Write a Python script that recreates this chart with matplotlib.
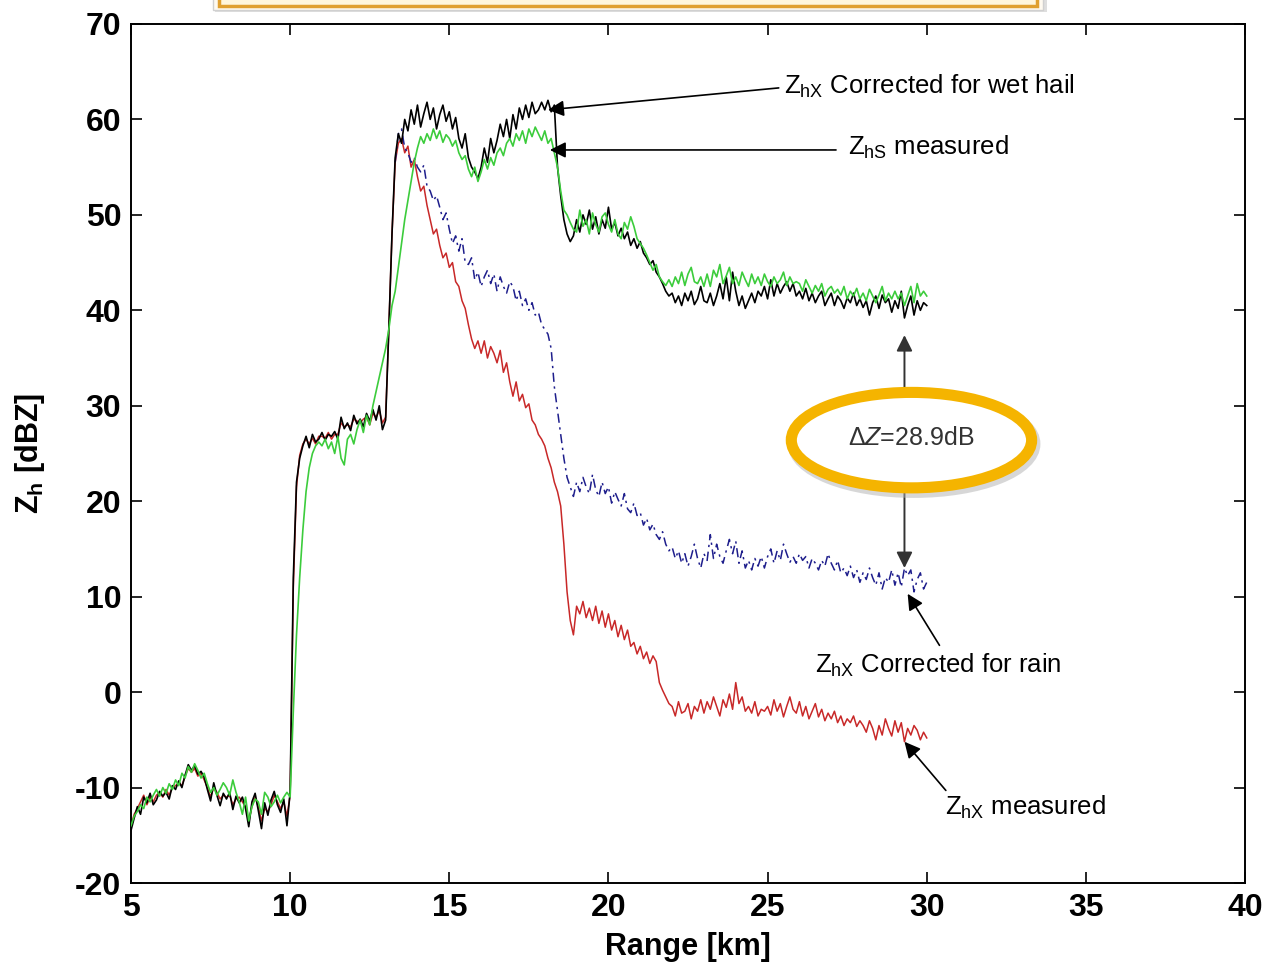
import numpy as np
import matplotlib
matplotlib.use("Agg")
import matplotlib.pyplot as plt
from matplotlib.patches import Ellipse, Rectangle

plt.rcParams['font.family'] = ['Liberation Sans', 'DejaVu Sans']
plt.rcParams['mathtext.fontset'] = 'custom'
plt.rcParams['mathtext.rm'] = 'Liberation Sans'
plt.rcParams['mathtext.it'] = 'Liberation Sans:italic'
plt.rcParams['mathtext.bf'] = 'Liberation Sans:bold'
plt.rcParams['axes.unicode_minus'] = False

# range axis, 0.1 km steps
rng = np.round(np.arange(5.0, 30.05, 0.1), 1)
rng_rain = np.round(np.arange(13.3, 30.05, 0.1), 1)

# Zhx corrected for wet hail (black)
zhx_hail = [
    -14.5, -13.2, -12.0, -12.8, -11.0, -11.6, -10.6, -11.8, -11.3, -10.4,
    -10.9, -10.5, -11.2, -9.8, -10.2, -9.3, -10.0, -8.7, -7.6, -8.2,
    -7.7, -8.6, -8.3, -8.9, -10.2, -11.4, -9.5, -10.8, -11.9, -10.6,
    -11.2, -10.5, -12.3, -10.9, -11.6, -11.0, -12.2, -14.1, -11.5, -10.6,
    -12.4, -14.3, -11.6, -12.9, -11.3, -10.4, -11.8, -12.6, -11.2, -14.0,
    -10.5, 12.0, 22.0, 24.5, 25.8, 26.8, 25.6, 27.0, 26.2, 26.5,
    27.2, 26.4, 27.0, 26.8, 27.3, 26.5, 28.8, 27.6, 28.2, 27.4,
    29.0, 28.1, 28.6, 27.8, 29.2, 28.4, 29.6, 28.5, 30.0, 27.5,
    28.5, 38.0, 48.0, 56.0, 58.5, 57.5, 60.0, 58.8, 61.0, 59.5,
    61.5, 59.2, 60.6, 61.8, 60.0, 61.2, 59.0, 60.5, 61.5, 59.8,
    60.8, 59.0, 60.2, 58.0, 57.0, 58.5, 56.0, 55.0, 54.5, 53.8,
    55.0, 57.0, 55.5, 58.0, 56.5, 57.8, 59.5, 58.2, 60.0, 58.0,
    60.5, 59.0, 61.2, 60.0, 61.5, 60.2, 61.8, 60.6, 61.0, 61.8,
    61.0, 62.0, 60.8, 61.5, 55.0, 52.0, 49.5, 48.0, 47.2, 47.8,
    49.5, 48.2, 50.0, 49.0, 50.5, 48.5, 49.8, 48.0, 49.5, 48.6,
    50.8, 48.5, 49.2, 47.8, 48.6, 47.5, 48.2, 46.8, 47.5, 46.5,
    47.2, 46.0, 45.5, 44.8, 45.2, 44.0, 43.5, 42.8, 42.0, 41.5,
    41.8, 40.8, 41.5, 40.5, 41.8, 41.0, 42.0, 40.6, 41.2, 42.5,
    41.0, 40.8, 41.8, 40.5, 41.5, 42.8, 41.2, 43.5, 41.0, 44.0,
    42.0, 40.5, 41.5, 40.2, 41.0, 41.8, 40.8, 42.0, 41.5, 42.5,
    41.2, 43.2, 41.5, 42.8, 41.8, 42.5, 43.0, 42.0, 42.8, 41.5,
    42.0, 41.2, 42.3, 41.0, 41.8, 40.8, 41.5, 42.0, 40.5, 41.2,
    41.8, 40.5, 41.5, 41.0, 40.2, 41.3, 40.8, 41.8, 40.5, 41.2,
    40.3, 41.0, 39.5, 40.8, 41.5, 40.2, 41.6, 40.8, 41.2, 39.8,
    41.0, 40.2, 42.0, 39.2, 40.5, 41.5, 39.5, 41.0, 40.0, 40.8, 40.5,
]

# Zhs measured (green)
zhs_meas = [
    -14.0, -13.0, -12.5, -11.8, -12.2, -11.0, -11.5, -10.8, -10.2, -10.9,
    -10.0, -10.6, -9.6, -10.2, -9.2, -9.8, -8.5, -9.0, -7.8, -8.4,
    -7.5, -8.2, -9.0, -8.5, -9.6, -10.5, -10.0, -10.8, -10.2, -9.5,
    -10.0, -10.8, -9.2, -10.5, -11.5, -12.8, -11.0, -13.5, -12.0, -11.2,
    -11.5, -12.8, -10.5, -11.0, -12.0, -11.5, -10.8, -11.6, -11.0, -10.5,
    -11.0, -2.0, 6.0, 12.0, 17.0, 21.0, 23.5, 25.0, 25.8, 26.2,
    25.8, 26.5, 25.5, 26.2, 25.0, 26.8, 24.5, 23.8, 26.5, 27.0,
    26.0, 27.5, 28.5, 27.2, 29.0, 28.0, 30.0, 31.5, 33.0, 34.5,
    36.0, 38.0, 40.5, 42.0, 44.5, 47.0, 49.5, 51.5, 53.5, 55.5,
    57.0, 58.2, 57.5, 58.5, 57.8, 59.0, 58.0, 58.8, 57.6, 58.4,
    58.0, 57.2, 57.8, 56.5, 55.8, 56.2, 54.8, 54.0, 55.0, 53.5,
    54.5, 55.8, 54.8, 56.0, 55.2, 56.5, 57.0, 56.2, 57.5, 58.0,
    57.2, 58.5, 57.8, 58.8, 57.5, 59.0, 58.2, 59.2, 58.5, 57.8,
    58.8, 57.5, 58.0, 56.5, 55.0, 52.5, 50.5, 50.0, 49.2, 48.5,
    48.2, 50.5, 48.8, 49.5, 48.0, 50.2, 49.0, 48.2, 49.8, 50.2,
    49.0, 48.2, 49.5, 48.0, 47.5, 49.2, 48.5, 49.8, 48.8, 47.5,
    47.0, 46.5, 45.8, 45.0, 44.2, 44.8, 43.5, 43.0, 42.6, 43.2,
    42.5, 43.5, 42.8, 44.0, 42.6, 43.8, 44.5, 43.0, 42.8, 43.5,
    42.5, 43.8, 42.5, 44.2, 43.5, 44.8, 42.8, 43.6, 44.5, 42.8,
    43.5, 42.6, 44.0, 43.2, 42.5, 43.8, 42.8, 43.5, 42.6, 43.8,
    43.0, 42.5, 43.5, 42.8, 43.2, 44.0, 42.6, 43.5, 42.8, 43.0,
    42.8, 42.0, 43.2, 42.5, 41.8, 42.6, 42.0, 42.8, 41.5, 42.2,
    42.5, 41.8, 42.2, 41.6, 42.5, 41.2, 42.0, 41.5, 42.3, 41.2,
    41.8, 41.0, 42.2, 41.5, 40.8, 41.6, 42.5, 41.0, 41.8, 41.2,
    42.0, 41.2, 41.8, 40.5, 41.5, 42.5, 40.8, 42.8, 41.5, 42.0, 41.5,
]

# Zhx measured (red)
zhx_meas = [
    -14.0, -12.8, -12.2, -11.5, -10.8, -11.8, -11.0, -11.5, -10.8, -10.5,
    -11.0, -10.2, -10.8, -10.0, -9.8, -9.5, -9.8, -8.8, -8.0, -8.4,
    -8.0, -8.8, -8.5, -9.2, -10.0, -11.0, -10.0, -10.5, -11.2, -10.8,
    -11.0, -10.8, -11.8, -11.2, -11.0, -11.5, -12.0, -13.5, -12.0, -11.0,
    -12.0, -13.5, -12.2, -12.5, -11.8, -10.8, -11.5, -12.2, -11.5, -13.0,
    -10.8, 11.0, 21.5, 24.8, 26.0, 26.5, 26.0, 26.6, 26.0, 26.8,
    26.8, 26.6, 27.2, 26.5, 27.0, 27.0, 28.2, 27.8, 28.0, 27.8,
    28.6, 28.4, 28.2, 28.6, 28.8, 28.0, 29.2, 28.8, 29.5, 28.2,
    28.8, 38.0, 48.0, 55.5, 57.5, 58.0, 56.5, 57.2, 55.0, 55.8,
    54.0, 52.5, 53.0, 51.0, 49.5, 48.0, 48.5, 46.8, 45.5, 46.0,
    44.5, 45.0, 43.0, 42.5, 41.0, 40.2, 38.5, 37.0, 36.0, 36.8,
    35.5, 36.8, 35.0, 36.2, 35.5, 34.5, 35.8, 33.5, 34.5, 32.5,
    31.0, 32.5, 30.5, 31.2, 29.8, 30.2, 28.5, 28.0, 27.0, 26.5,
    25.8, 24.5, 23.5, 22.0, 21.0, 19.5, 15.5, 10.5, 7.5, 6.0,
    9.0, 8.2, 9.5, 7.8, 8.8, 7.5, 9.0, 7.2, 8.5, 6.8,
    8.2, 6.5, 7.5, 5.8, 7.0, 5.5, 6.5, 4.8, 5.2, 4.0,
    4.8, 3.5, 4.2, 3.0, 3.8, 3.2, 1.0, 0.2, -0.5, -1.2,
    -1.5, -2.5, -1.0, -2.2, -2.0, -1.2, -2.8, -1.5, -2.0, -0.8,
    -2.2, -1.0, -1.8, -0.5, -1.5, -2.5, -0.8, -1.6, -0.2, -1.8,
    1.0, -1.2, -0.5, -2.0, -1.5, -2.2, -1.0, -2.5, -1.8, -2.0,
    -1.5, -2.4, -0.8, -2.0, -1.2, -2.6, -1.5, -0.5, -1.8, -2.2,
    -1.0, -2.5, -1.5, -2.8, -2.0, -1.2, -2.6, -1.8, -3.0, -2.2,
    -2.8, -2.0, -3.2, -2.5, -3.5, -2.8, -3.2, -2.5, -3.6, -3.0,
    -3.5, -4.2, -3.0, -3.8, -5.0, -3.5, -4.5, -2.8, -3.8, -4.6,
    -3.0, -4.2, -3.2, -5.2, -3.8, -4.5, -3.5, -4.0, -5.0, -4.2, -4.8,
]

# Zhx corrected for rain (blue dash-dot), from 13.3 km
zhx_rain = [
    55.5, 58.5, 59.0, 57.0, 56.5, 55.5, 56.0,
    55.0, 54.5, 55.2, 53.0, 52.5, 51.5, 52.0, 50.8, 49.5, 50.2,
    48.5, 47.0, 47.8, 46.2, 47.5, 45.0, 44.8, 45.5, 43.2, 44.0,
    42.5, 43.5, 44.2, 42.8, 43.8, 42.0, 43.5, 42.5, 41.8, 43.0,
    42.5, 41.0, 42.0, 40.5, 41.2, 40.0, 40.8, 39.5, 39.8, 38.5,
    38.0, 37.5, 36.0, 32.0, 29.5, 27.0, 24.5, 22.5, 21.5, 20.5,
    22.0, 21.0, 22.5, 21.5, 20.8, 22.8, 21.2, 20.5, 22.0, 20.8,
    21.5, 19.8, 21.0, 20.2, 19.5, 20.8, 19.2, 18.8, 19.8, 18.5,
    18.8, 17.5, 18.2, 17.0, 17.6, 16.5, 16.0, 16.8, 15.5, 14.8,
    15.2, 14.0, 14.8, 13.5, 14.5, 13.2, 14.2, 15.5, 14.0, 13.0,
    14.5, 13.8, 16.5, 14.0, 15.5, 14.2, 13.5, 14.8, 16.0, 14.5,
    15.8, 13.5, 14.8, 13.0, 13.8, 12.8, 14.0, 13.2, 14.2, 13.0,
    14.2, 15.0, 13.5, 14.8, 13.8, 15.5, 14.5, 13.6, 14.2, 13.5,
    14.5, 13.8, 14.2, 13.0, 14.0, 13.5, 12.8, 13.8, 13.2, 14.5,
    13.5, 12.8, 13.8, 12.5, 13.0, 12.2, 13.2, 12.0, 12.8, 11.5,
    12.5, 11.8, 13.0, 12.0, 11.2, 12.5, 10.8, 12.0, 11.5, 12.8,
    11.2, 12.5, 11.0, 13.0, 12.2, 12.8, 10.5, 11.8, 12.5, 10.8, 11.5,
]

xticks = [5, 10, 15, 20, 25, 30, 35, 40]
yticks = [-20, -10, 0, 10, 20, 30, 40, 50, 60, 70]

fig = plt.figure(figsize=(12.68, 9.66), dpi=100)
ax = fig.add_axes([0.1033, 0.0859, 0.8786, 0.8893])

ax.plot(rng, zhs_meas, color='#3ccc3c', lw=1.2, zorder=3)
ax.plot(rng, zhx_meas, color='#c82828', lw=1.1, zorder=2)
ax.plot(rng_rain, zhx_rain, color='#1e1e8c', lw=1.1,
        ls=(0, (6, 3, 1.5, 3)), zorder=2)
ax.plot(rng, zhx_hail, color='black', lw=1.2, zorder=2.5)

ax.set_xlim(5, 40)
ax.set_ylim(-20, 70)
ax.set_xticks(xticks)
ax.set_yticks(yticks)
ax.tick_params(direction='in', length=8, width=1.2, top=True, right=True,
               labelsize=23, pad=7)
for lab in ax.get_xticklabels() + ax.get_yticklabels():
    lab.set_fontweight('bold')
for sp in ax.spines.values():
    sp.set_linewidth(1.4)

ax.set_xlabel('Range [km]', fontsize=22, fontweight='bold', labelpad=7)
ax.set_ylabel(r'Z$_{\mathbf{h}}$ [dBZ]', fontsize=22, fontweight='bold',
              labelpad=20)

arrow = dict(arrowstyle='-|>', color='black', lw=1.2, mutation_scale=24,
             shrinkA=0, shrinkB=0)
fs = 18.5
ax.annotate('', xy=(18.1, 61.0), xytext=(25.35, 63.3), arrowprops=arrow)
ax.text(25.5, 63.5, r'Z$_{\mathregular{hX}}$ Corrected for wet hail',
        fontsize=fs, va='center', ha='left')
ax.annotate('', xy=(18.16, 56.8), xytext=(27.15, 56.8), arrowprops=arrow)
ax.text(27.53, 57.1, r'Z$_{\mathregular{hS}}$ measured',
        fontsize=fs, va='center', ha='left')
ax.annotate('', xy=(29.4, 10.3), xytext=(30.4, 4.9), arrowprops=arrow)
ax.text(26.49, 2.8, r'Z$_{\mathregular{hX}}$ Corrected for rain',
        fontsize=fs, va='center', ha='left')
ax.annotate('', xy=(29.3, -5.2), xytext=(30.6, -10.3), arrowprops=arrow)
ax.text(30.57, -12.1, r'Z$_{\mathregular{hX}}$ measured',
        fontsize=fs, va='center', ha='left')

# delta Z arrows
garrow = dict(arrowstyle='-|>', color='#333333', lw=1.4, mutation_scale=24,
              shrinkA=0, shrinkB=0)
ax.annotate('', xy=(29.3, 37.4), xytext=(29.3, 31.5), arrowprops=garrow)
ax.annotate('', xy=(29.3, 13.0), xytext=(29.3, 21.2), arrowprops=garrow)

# ellipse highlight with shadow
ax.add_patch(Ellipse((29.6, 26.0), 7.55, 10.0, fill=False,
                     ec='#b0b0b0', lw=9, alpha=0.5, zorder=5))
ax.add_patch(Ellipse((29.52, 26.4), 7.55, 10.0, fc='white',
                     ec='#f5b400', lw=8, zorder=6))
ax.text(29.52, 26.6, r'$\Delta$$\it{Z}$=28.9dB', fontsize=18,
        color='#333333', ha='center', va='center', zorder=7)

# cut-off title box at top
fig.patches.append(Rectangle((215 / 1268, 1 - 12 / 966), 832 / 1268, 0.05,
                             transform=fig.transFigure, fc='#c8c8c8',
                             ec='none', zorder=0, alpha=0.6))
fig.patches.append(Rectangle((213 / 1268, 1 - 10 / 966), 830 / 1268, 0.05,
                             transform=fig.transFigure, fc='#fffaf0',
                             ec='#d0d0d0', lw=1.0, zorder=1))
fig.patches.append(Rectangle((219 / 1268, 1 - 6 / 966), 818 / 1268, 0.05,
                             transform=fig.transFigure, fc='#fff6dc',
                             ec='#e0a030', lw=2.5, zorder=2))

fig.savefig('out.png', dpi=100)
